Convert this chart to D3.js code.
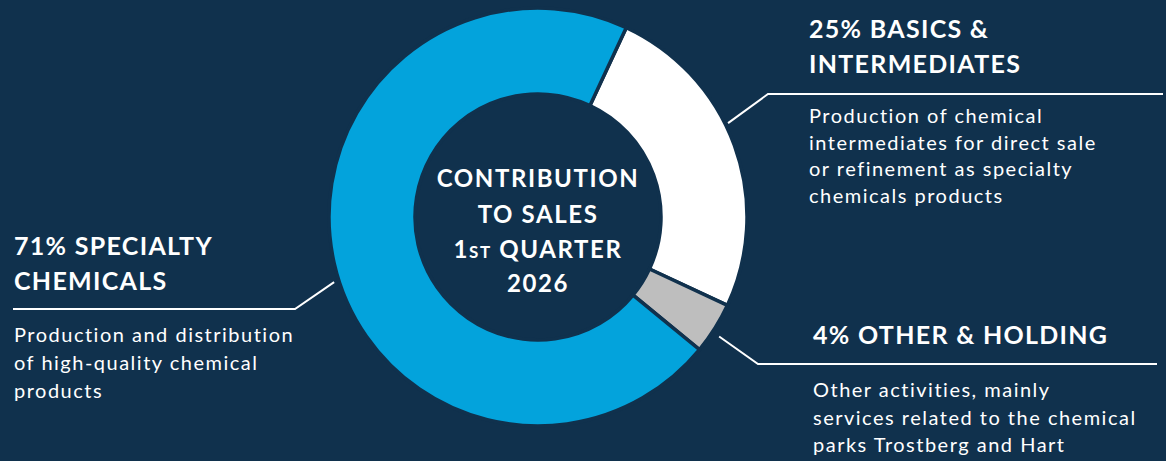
<!DOCTYPE html>
<html>
<head>
<meta charset="utf-8">
<script src="https://cdn.jsdelivr.net/npm/d3@7"></script>
<style>
  body { margin: 0; background: #10314d; }
  svg { display: block; }
</style>
</head>
<body>
<script>
// segments, drawn clockwise starting at the basics slice
const segments = ["Basics & Intermediates", "Other & Holding", "Specialty Chemicals"];
const shares = [25, 4, 71];
const colors = ["#ffffff", "#bebebe", "#03a3dc"];

const headings = [
  ["25% BASICS &", "INTERMEDIATES"],
  ["4% OTHER & HOLDING"],
  ["71% SPECIALTY", "CHEMICALS"]
];
const descriptions = [
  ["Production of chemical", "intermediates for direct sale", "or refinement as specialty", "chemicals products"],
  ["Other activities, mainly", "services related to the chemical", "parks Trostberg and Hart"],
  ["Production and distribution", "of high-quality chemical", "products"]
];

const WIDTH = 1166;
const HEIGHT = 461;
const BG = "#10314d";
const cx = 538, cy = 217;
const R = 209, r = 123;

const svg = d3.select("body")
  .append("svg")
  .attr("width", WIDTH)
  .attr("height", HEIGHT);

svg.append("rect").attr("width", WIDTH).attr("height", HEIGHT).attr("fill", BG);

const start = 25 * Math.PI / 180;
const pie = d3.pie().sort(null).startAngle(start).endAngle(start + 2 * Math.PI);
const arcs = pie(shares);

const arc = d3.arc().innerRadius(r).outerRadius(R);
const g = svg.append("g").attr("transform", `translate(${cx},${cy})`);

g.selectAll("path")
  .data(arcs)
  .enter()
  .append("path")
  .attr("d", arc)
  .attr("fill", (d, i) => colors[i])
  .attr("stroke", BG)
  .attr("stroke-width", 3.5)
  .attr("stroke-linejoin", "miter");

// centre title
const title = g.append("text")
  .attr("text-anchor", "middle")
  .attr("fill", "#ffffff")
  .style("font-family", "Lato")
  .style("font-weight", 700)
  .style("font-size", "24px")
  .style("letter-spacing", "1.6px");
title.append("tspan").attr("x", 0).attr("y", -30).text("CONTRIBUTION");
title.append("tspan").attr("x", 0).attr("y", 6).text("TO SALES");
const q = title.append("tspan").attr("x", 0).attr("y", 41);
q.append("tspan").text("1");
q.append("tspan").style("font-size", "17px").text("ST");
q.append("tspan").text(" QUARTER");
title.append("tspan").attr("x", 0).attr("y", 75).text("2026");

// label layout: heading x, heading first baseline, rule y, elbow x, rule end x,
// desc first baseline, leader angle shift (deg) and radius
const layout = [
  { x: 809, hy: 38, ruleY: 94, elbowX: 768, endX: 1163, dy: 123, lh: 26.5, shift: -6.3, lr: 212 },
  { x: 813, hy: 344, ruleY: 364, elbowX: 758, endX: 1157, dy: 397, lh: 27.5, shift: 1.2, lr: 217 },
  { x: 14, hy: 255, ruleY: 309, elbowX: 295, endX: 13, dy: 342, lh: 28, shift: -4.9, lr: 214 }
];

arcs.forEach((d, i) => {
  const L = layout[i];
  const mid = (d.startAngle + d.endAngle) / 2 + L.shift * Math.PI / 180;
  const c = d3.pointRadial(mid, L.lr);
  const p0 = [cx + c[0], cy + c[1]];
  svg.append("path")
    .attr("d", d3.line()([p0, [L.elbowX, L.ruleY], [L.endX, L.ruleY]]))
    .attr("fill", "none")
    .attr("stroke", "#ffffff")
    .attr("stroke-width", 2);

  const h = svg.append("text")
    .attr("fill", "#ffffff")
    .style("font-family", "Lato")
    .style("font-weight", 700)
    .style("font-size", "25px")
    .style("letter-spacing", "1.3px");
  headings[i].forEach((line, k) => {
    h.append("tspan").attr("x", L.x).attr("y", L.hy + k * 35).text(line);
  });

  const t = svg.append("text")
    .attr("fill", "#ffffff")
    .style("font-family", "Lato")
    .style("font-weight", 400)
    .style("font-size", "20px")
    .style("letter-spacing", "1.5px");
  descriptions[i].forEach((line, k) => {
    t.append("tspan").attr("x", L.x).attr("y", L.dy + k * L.lh).text(line);
  });
});
</script>
</body>
</html>
